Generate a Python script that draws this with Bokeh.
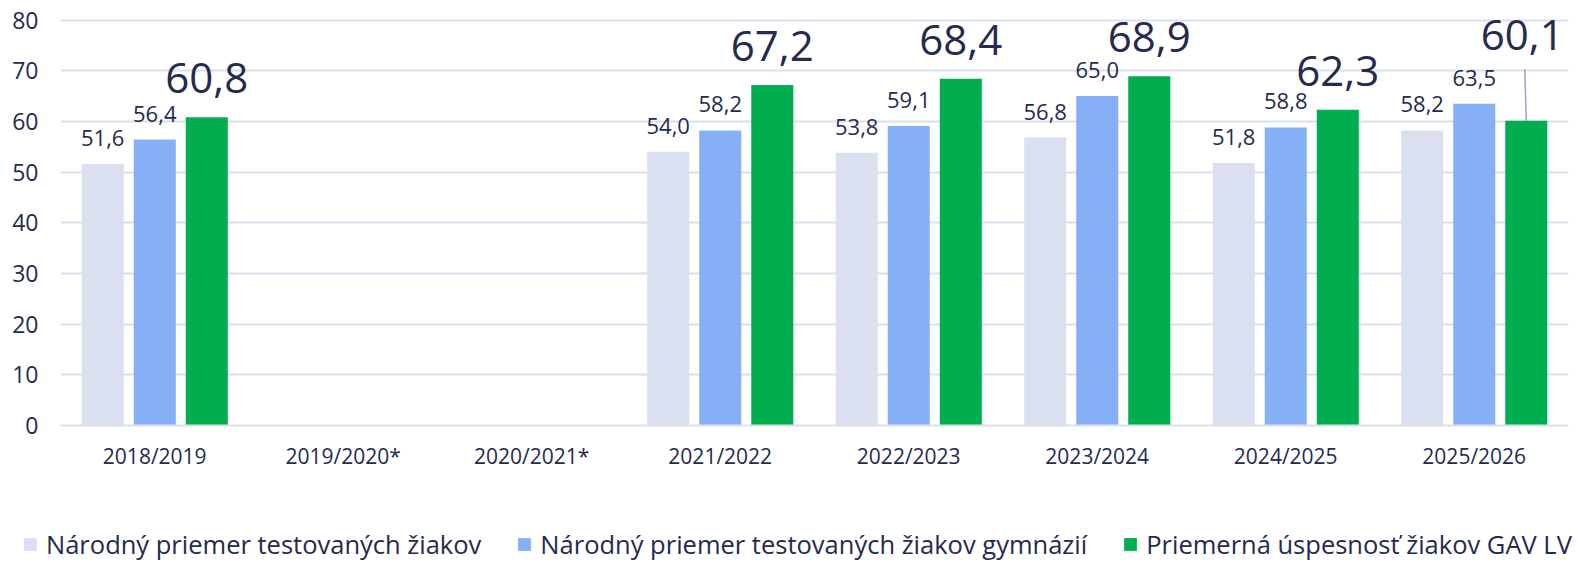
from bokeh.plotting import figure
from bokeh.layouts import column
from bokeh.models import ColumnDataSource, FactorRange, Range1d, FixedTicker, Legend, LegendItem
from bokeh.transform import dodge
from bokeh.core.properties import value
from bokeh.embed import file_html
from bokeh.resources import INLINE

years = ["2018/2019", "2019/2020*", "2020/2021*", "2021/2022", "2022/2023",
         "2023/2024", "2024/2025", "2025/2026"]
narodny = [51.6, None, None, 54.0, 53.8, 56.8, 51.8, 58.2]
gymnazia = [56.4, None, None, 58.2, 59.1, 65.0, 58.8, 63.5]
gav_lv = [60.8, None, None, 67.2, 68.4, 68.9, 62.3, 60.1]
series_names = ["Národný priemer testovaných žiakov",
                "Národný priemer testovaných žiakov gymnázií",
                "Priemerná úspesnosť žiakov GAV LV"]
y_ticks = [0, 10, 20, 30, 40, 50, 60, 70, 80]

FONT = "Open Sans"
TXT = "#252A4F"
GRID = "#DCDFF0"
COLORS = ["#DAE0F0", "#86B0F5", "#00AE50"]

def fmt(v):
    return f"{v:.1f}".replace(".", ",")

def src(vals):
    xs = [y for y, v in zip(years, vals) if v is not None]
    vs = [v for v in vals if v is not None]
    return ColumnDataSource(dict(x=xs, v=vs, lab=[fmt(v) for v in vs]))

px_per_unit = (425 - 19.5) / 80.0
MAIN_H = 528
LEG_H = 562 - MAIN_H

p = figure(width=1578, height=MAIN_H, x_range=FactorRange(*years),
           y_range=Range1d(0, 425 / px_per_unit),
           output_backend="svg", toolbar_location=None,
           min_border_left=60, min_border_right=10, min_border_top=0,
           min_border_bottom=MAIN_H - 425)
p.frame_align = False
p.outline_line_color = None
p.xgrid.grid_line_color = None
p.ygrid.ticker = FixedTicker(ticks=y_ticks)
p.ygrid.grid_line_color = GRID
p.ygrid.grid_line_width = 2
p.yaxis.ticker = FixedTicker(ticks=y_ticks)
p.yaxis.axis_line_color = None
p.yaxis.major_tick_line_color = None
p.yaxis.minor_tick_line_color = None
p.yaxis.major_tick_out = 0
p.yaxis.minor_tick_out = 0
p.yaxis.major_label_standoff = 22
p.yaxis.major_label_text_font = FONT
p.yaxis.major_label_text_font_size = "23px"
p.yaxis.major_label_text_color = TXT
p.yaxis.axis_label = " "
p.yaxis.axis_label_text_font_size = "2px"
p.yaxis.axis_label_standoff = 3
p.xaxis.axis_line_color = GRID
p.xaxis.axis_line_width = 2
p.xaxis.major_tick_line_color = None
p.xaxis.minor_tick_line_color = None
p.xaxis.major_tick_out = 0
p.xaxis.minor_tick_out = 0
p.xaxis.major_label_standoff = 16
p.xaxis.major_label_text_font = FONT
p.xaxis.major_label_text_font_size = "21px"
p.xaxis.major_label_text_color = TXT

offsets = [-0.276, 0.0, 0.276]
bw = 0.223
for vals, off, col in zip([narodny, gymnazia, gav_lv], offsets, COLORS):
    s = src(vals)
    p.vbar(x=dodge("x", off, range=p.x_range), top="v", width=bw, source=s,
           fill_color=col, line_color=None)

# small labels
for vals, off in zip([narodny, gymnazia], offsets[:2]):
    s = src(vals)
    p.text(x=dodge("x", off, range=p.x_range), y="v", text="lab", source=s,
           text_font=value(FONT), text_font_size="22px", text_color=TXT,
           text_align="center", text_baseline="alphabetic", y_offset=-26)

# large labels for GAV LV
g_main = [v if (v is not None and y != years[-1]) else None for y, v in zip(years, gav_lv)]
g_last = [v if y == years[-1] else None for y, v in zip(years, gav_lv)]
s_main = src(g_main)
p.text(x=dodge("x", offsets[2], range=p.x_range), y="v", text="lab", source=s_main,
       text_font=value(FONT), text_font_size="42px", text_color=TXT,
       text_align="center", text_baseline="alphabetic", y_offset=-39)
s_last = src(g_last)
lift = 52 / px_per_unit
s_last.data["v2"] = [v + lift for v in s_last.data["v"]]
p.segment(x0=dodge("x", offsets[2], range=p.x_range), y0="v",
          x1=dodge("x", offsets[2] - 0.008, range=p.x_range), y1="v2",
          source=s_last, line_color="#9DA2CE", line_width=1.5)
p.text(x=dodge("x", offsets[2], range=p.x_range), y="v", text="lab", source=s_last,
       text_font=value(FONT), text_font_size="42px", text_color=TXT,
       text_align="center", text_baseline="alphabetic", y_offset=-86, x_offset=-4)

# legend strip (hidden copies of the series supply the legend swatches)
q = figure(width=1578, height=LEG_H, x_range=FactorRange(*years), y_range=Range1d(0, LEG_H),
           output_backend="svg", toolbar_location=None, x_axis_type=None, y_axis_type=None,
           min_border_left=0, min_border_right=0, min_border_top=0, min_border_bottom=0)
q.frame_align = False
q.outline_line_color = None
q.xgrid.grid_line_color = None
q.ygrid.grid_line_color = None
leg_renderers = []
for vals, col in zip([narodny, gymnazia, gav_lv], COLORS):
    r = q.vbar(x="x", top="v", width=bw, source=src(vals), fill_color=col, line_color=None)
    r.visible = False
    leg_renderers.append(r)
legend = Legend(items=[LegendItem(label=n, renderers=[r]) for n, r in zip(series_names, leg_renderers)],
                orientation="horizontal", location=(22, 1),
                glyph_width=16, glyph_height=16, label_standoff=8, spacing=35,
                padding=0, margin=0, label_height=24,
                label_text_font=FONT, label_text_font_size="25.5px", label_text_color=TXT,
                inactive_fill_alpha=0,
                border_line_color=None, background_fill_alpha=0)
q.add_layout(legend, "center")

open("out.html", "w").write(file_html(column(p, q), INLINE))
